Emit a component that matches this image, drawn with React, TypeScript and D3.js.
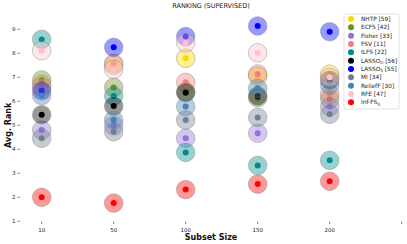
import { scaleLinear } from "d3";

const sizes = ["10", "50", "100", "150", "200"];

const methods = ["NHTP", "ECFS", "Fisher", "FSV", "ILFS", "LASSO_U", "LASSO_S", "MI", "ReliefF", "RFE", "Inf-FS_S"];
const counts = ["59", "42", "33", "11", "22", "56", "55", "34", "30", "47", ""];
const colors = ["#ffd700", "#6b8e23", "#9370db", "#f08080", "#008b8b", "#000000", "#0000ff", "#708090", "#4682b4", "#ffc0cb", "#ff0000"];

// avg rank per method, one value per subset size
const nhtp = [6.7, 7.5, 7.79, 7.05, 7.13];
const ecfs = [6.89, 6.58, 6.4, 6.15, 6.09];
const fisher = [4.8, 4.98, 4.46, 4.67, 5.78];
const fsv = [6.6, 7.58, 6.79, 7.14, 6.3];
const ilfs = [8.58, 6.22, 3.87, 3.33, 3.54];
const lassoU = [5.44, 5.8, 6.36, 6.22, 6.89];
const lassoS = [6.44, 8.25, 8.7, 9.14, 8.9];
const mi = [4.46, 4.73, 5.22, 5.33, 5.46];
const relieff = [6.24, 5.22, 5.78, 6.54, 6.68];
const rfe = [8.11, 7.33, 8.44, 8.02, 7.0];
const inffs = [2.0, 1.76, 2.32, 2.55, 2.67];

const series = [nhtp, ecfs, fisher, fsv, ilfs, lassoU, lassoS, mi, relieff, rfe, inffs];

const yTicks = [1, 2, 3, 4, 5, 6, 7, 8, 9];
const xTicks = [0, 1, 2, 3, 4, 5];

function Label({ name, count, x, y }: { name: string; count: string; x: number; y: number }) {
  const parts = name.split("_");
  return (
    <text x={x} y={y} fontSize={5.8} dominantBaseline="central" fill="#222">
      {parts[0]}
      {parts[1] && (
        <tspan fontSize={4.3} dy={1.5}>
          {parts[1]}
        </tspan>
      )}
      {count && <tspan dy={parts[1] ? -1.5 : 0}>{" [" + count + "]"}</tspan>}
    </text>
  );
}

export default function App() {
  const width = 407;
  const height = 244;

  const x = scaleLinear().domain([0, 5]).range([41.7, 401.7]);
  const y = scaleLinear().domain([1, 9]).range([221.3, 29.3]);

  const font = "DejaVu Sans, sans-serif";

  return (
    <svg
      width={width}
      height={height}
      style={{ position: "absolute", left: 0, top: 0, fontFamily: font }}
    >
      <rect width={width} height={height} fill="#fff" />
      <text x={211} y={6} fontSize={6.5} textAnchor="middle" dominantBaseline="central" fill="#222">
        RANKING (SUPERVISED)
      </text>

      {/* y axis ticks */}
      {yTicks.map((t) => (
        <g key={"y" + t}>
          <line x1={17.5} x2={20} y1={y(t)} y2={y(t)} stroke="#333" strokeWidth={0.6} />
          <text x={15.5} y={y(t)} fontSize={5.5} textAnchor="end" dominantBaseline="central" fill="#222">
            {t}
          </text>
        </g>
      ))}
      <text
        transform={`translate(8,${y(5)}) rotate(-90)`}
        fontSize={8}
        fontWeight="bold"
        textAnchor="middle"
        dominantBaseline="central"
        fill="#111"
      >
        Avg. Rank
      </text>

      {/* x axis ticks */}
      {xTicks.map((t) => (
        <g key={"x" + t}>
          <line x1={x(t)} x2={x(t)} y1={221.5} y2={224} stroke="#333" strokeWidth={0.6} />
          <text x={x(t)} y={229.5} fontSize={5.5} textAnchor="middle" dominantBaseline="central" fill="#222">
            {sizes[t] ?? ""}
          </text>
        </g>
      ))}
      <text x={211} y={237.5} fontSize={8} fontWeight="bold" textAnchor="middle" dominantBaseline="central" fill="#111">
        Subset Size
      </text>

      {/* points */}
      {series.map((vals, m) => (
        <g key={methods[m]}>
          {vals.map((v, i) => (
            <g key={i}>
              <circle
                cx={x(i)}
                cy={y(v)}
                r={9.3}
                fill={colors[m]}
                fillOpacity={0.4}
                stroke="#888"
                strokeOpacity={0.45}
                strokeWidth={1}
              />
              <circle cx={x(i)} cy={y(v)} r={3} fill={colors[m]} />
            </g>
          ))}
        </g>
      ))}

      {/* legend */}
      <rect x={344} y={14} width={55} height={95} fill="#fff" fillOpacity={0.85} stroke="#ccc" strokeWidth={0.6} rx={1.5} />
      {methods.map((name, m) => (
        <g key={"l" + name}>
          <circle cx={351} cy={19 + m * 8.33} r={3} fill={colors[m]} />
          <Label name={name} count={counts[m]} x={361} y={19 + m * 8.33} />
        </g>
      ))}
    </svg>
  );
}
